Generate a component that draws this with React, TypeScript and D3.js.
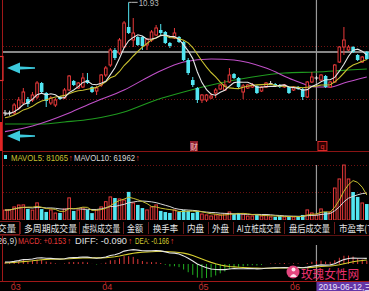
import React from 'react';
import * as d3 from 'd3';

const W = 369;
const H = 291;

// ---- price data ----
const opens = [
  7.61, 7.61, 7.61, 7.76, 7.91, 8.03, 8.0, 8.09, 8.51, 8.21,
  7.91, 7.85, 8.09, 8.06, 8.3, 8.57, 8.36, 8.39, 8.6, 8.39,
  8.27, 8.45, 8.75, 9.05, 9.5, 9.41, 9.59, 10.19, 9.8, 9.89,
  9.89, 9.65, 9.8, 9.95, 10.1, 10.04, 9.71, 9.86, 9.89, 9.74,
  9.2, 8.6, 8.36, 8.0, 8.0, 8.06, 8.21, 8.33, 8.3, 8.54,
  8.78, 8.66, 8.24, 8.36, 8.39, 8.42, 8.27, 8.39, 8.49, 8.48,
  8.45, 8.39, 8.39, 8.3, 8.39, 8.33, 8.09, 8.54, 8.66, 8.6,
  8.72, 8.39, 8.54, 9.14, 9.59, 9.5, 9.59, 9.35, 9.14, 9.44,
];
const closes = [
  7.61, 7.61, 7.85, 8.0, 8.24, 7.88, 8.15, 8.51, 8.24, 7.97,
  8.06, 8.0, 8.03, 8.3, 8.72, 8.45, 8.51, 8.66, 8.51, 8.24,
  8.36, 8.75, 8.96, 9.5, 9.26, 9.8, 10.31, 10.01, 10.01, 9.65,
  9.62, 9.83, 10.04, 10.16, 10.01, 9.71, 9.62, 10.01, 9.74, 9.2,
  8.81, 8.45, 8.0, 8.15, 8.15, 8.12, 8.3, 8.45, 8.45, 8.75,
  8.66, 8.39, 8.42, 8.45, 8.45, 8.21, 8.39, 8.51, 8.49, 8.42,
  8.39, 8.45, 8.21, 8.39, 8.33, 8.09, 8.54, 8.69, 8.66, 8.75,
  8.39, 8.54, 9.05, 9.59, 9.8, 9.59, 9.44, 9.2, 9.29, 9.23,
];
const highs = [
  7.7, 7.68, 7.91, 8.09, 8.36, 8.09, 8.24, 8.57, 8.54, 8.24,
  8.12, 8.06, 8.12, 8.36, 8.75, 8.6, 8.54, 8.81, 8.81, 8.42,
  8.42, 8.78, 9.02, 9.56, 9.56, 9.86, 10.37, 10.93, 10.46, 9.92,
  9.92, 9.86, 10.1, 10.25, 10.28, 10.07, 9.74, 10.16, 9.92, 9.77,
  9.26, 8.69, 8.39, 8.18, 8.18, 8.21, 8.36, 8.48, 8.6, 8.96,
  8.81, 8.69, 8.48, 8.48, 8.51, 8.45, 8.42, 8.54, 8.57, 8.51,
  8.48, 8.48, 8.42, 8.42, 8.42, 8.36, 8.57, 8.84, 8.72, 8.78,
  8.75, 8.57, 9.08, 9.62, 10.19, 9.65, 9.62, 9.38, 9.32, 9.47,
];
const lows = [
  7.52, 7.53, 7.55, 7.7, 7.88, 7.79, 7.94, 8.03, 8.21, 7.79,
  7.85, 7.79, 8.0, 8.03, 8.27, 8.42, 8.33, 8.36, 8.48, 8.21,
  8.15, 8.39, 8.69, 8.99, 9.2, 9.35, 9.56, 9.98, 9.59, 9.62,
  9.5, 9.5, 9.74, 9.92, 9.95, 9.68, 9.56, 9.83, 9.71, 9.17,
  8.75, 8.39, 7.91, 7.91, 7.94, 8.03, 8.06, 8.3, 8.27, 8.51,
  8.63, 8.36, 8.03, 8.33, 8.36, 8.18, 8.24, 8.36, 8.45, 8.39,
  8.36, 8.36, 8.18, 8.27, 8.3, 8.0, 8.06, 8.51, 8.6, 8.57,
  8.36, 8.36, 8.51, 9.11, 9.35, 9.47, 9.41, 9.17, 9.11, 9.2,
];
const volumes = [
  134200, 137800, 176300, 201900, 204100, 149600, 133500, 231200, 147300, 108900,
  136100, 93800, 95400, 149100, 298700, 122300, 134600, 161800, 136400, 93200,
  134700, 176900, 247300, 311600, 296800, 284200, 269500, 379400, 230100, 203600,
  161200, 135800, 176400, 203100, 122600, 107400, 95100, 134900, 108700, 135300,
  121800, 95200, 122400, 80700, 67900, 54300, 68200, 66800, 81500, 108300,
  80400, 95600, 81200, 53800, 54900, 67300, 53600, 68100, 40900, 41200,
  53400, 40700, 54800, 40300, 41500, 67900, 136200, 94800, 67600, 149200,
  108100, 107600, 431800, 554200, 741900, 553700, 377600, 311400, 229800, 215600,
];
// closes before the first visible day (for MA5 / MA10 / MACD warm-up)
const preCloses = [7.3, 7.35, 7.28, 7.4, 7.45, 7.52, 7.58, 7.55, 7.62];

// long moving averages at sample days
const ma20Idx = [0, 6, 14, 19, 26, 33, 39, 45, 50, 57, 63, 68, 71, 74, 79];
const ma20Val = [7.05, 7.22, 7.61, 7.91, 8.3, 8.81, 9.14, 9.23, 9.2, 8.96, 8.6, 8.39, 8.39, 8.51, 8.69];
const ma60Idx = [0, 8, 13, 19, 26, 33, 39, 46, 54, 61, 68, 74, 79];
const ma60Val = [7.28, 7.28, 7.34, 7.43, 7.64, 8.0, 8.24, 8.48, 8.69, 8.81, 8.84, 8.89, 8.93];

const monthIdx = [2, 22, 43, 63];
const monthLabels = ['03', '04', '05', '06'];
const crossIdx = 68;
const crossPrice = 9.44;
const highIdx = 27;
const highLabel = '10.93';
const dateLabel = '2019-06-12,三';

const tabNames = ['成交量', '多周期成交量', '虚拟成交量', '金额', '换手率', '内盘', '外盘', 'AI立桩成交量', '盘后成交量', '市盈率(TTM)'];
const volHeader = ['MAVOL5: 81065', 'MAVOL10: 61962'];
const macdHeader = ['MACD(12,26,9)', 'MACD: +0.153', 'DIFF: -0.090', 'DEA: -0.166'];

// ---- layout ----
const tabX = [-12, 24, 82, 127, 153, 187, 212, 237, 289, 339];
const tabW = [28, 53, 38, 16, 25, 17, 17, 44, 41, 48];
const tabSeps = [20, 79, 123, 148, 183, 208, 233, 284, 334];

const FONT = "'Liberation Sans', 'DejaVu Sans', 'Noto Sans CJK SC', sans-serif";
const CJK = "'Noto Sans CJK SC', 'Noto Sans CJK TC', sans-serif";

const RED = '#e8393a';
const CYAN = '#52e6f2';
const DARKRED = '#8a1414';

export default function App() {
  const n = closes.length;
  const x = d3.scaleLinear().domain([0, n - 1]).range([5, 5 + 4.58 * (n - 1)]);
  const yP = d3.scaleLinear().domain([6.5, 11]).range([150, 0]);
  const yV = d3.scaleLinear().domain([0, 945000]).range([220, 150]);
  const yM = d3.scaleLinear().domain([-1, 1]).range([290, 238]);

  const allC = [...preCloses, ...closes];
  const off = preCloses.length;
  const ma = (k: number) => closes.map((_, i) => d3.mean(allC.slice(i + off - k + 1, i + off + 1)) as number);
  const ma5 = ma(5);
  const ma10 = ma(10);
  const mv = (k: number) => volumes.map((_, i) => d3.mean(volumes.slice(Math.max(0, i - k + 1), i + 1)) as number);
  const mv5 = mv(5);
  const mv10 = mv(10);

  let e12 = allC[0];
  let e26 = allC[0];
  let dea = 0;
  const diffA: number[] = [];
  const deaA: number[] = [];
  const histA: number[] = [];
  allC.forEach((c, j) => {
    if (j > 0) {
      e12 = (e12 * 11 + c * 2) / 13;
      e26 = (e26 * 25 + c * 2) / 27;
    }
    const d = e12 - e26;
    dea = (dea * 8 + d * 2) / 10;
    if (j >= off) {
      diffA.push(d);
      deaA.push(dea);
      histA.push(2 * (d - dea));
    }
  });

  const lineP = d3.line<number>().x((_, i) => x(i)).y((v) => yP(v));
  const lineV = d3.line<number>().x((_, i) => x(i)).y((v) => yV(v));
  const lineM = d3.line<number>().x((_, i) => x(i)).y((v) => yM(v));
  const sampled = (idx: number[]) =>
    d3.line<number>().x((_, k) => x(idx[k])).y((v) => yP(v)).curve(d3.curveMonotoneX);

  const bw = 2.6;
  const arrow = (cy: number) =>
    `M7,${cy} L20,${cy - 5.5} L20,${cy - 1.6} L35,${cy - 0.8} L35,${cy + 0.8} L20,${cy + 1.6} L20,${cy + 5.5} Z`;

  const cx = x(crossIdx);
  const hx = x(highIdx);
  const hy = yP(highs[highIdx]);

  return (
    <svg
      width={W}
      height={H}
      style={{ position: 'absolute', left: 0, top: 0, background: '#000', display: 'block' }}
      fontFamily={FONT}
    >
      <defs>
        <clipPath id="cp"><rect x={3} y={0} width={W} height={151} /></clipPath>
        <clipPath id="cv"><rect x={3} y={151} width={W} height={69} /></clipPath>
        <clipPath id="cm"><rect x={3} y={245} width={W} height={36} /></clipPath>
      </defs>
      <rect x={0} y={0} width={W} height={H} fill="#000" />

      {/* grid lines */}
      {[46.5, 99.5].map((gy) => (
        <line key={gy} x1={3} x2={W} y1={gy} y2={gy} stroke="#6e1212" strokeDasharray="1 2" />
      ))}
      {[165.5, 192.5].map((gy) => (
        <line key={gy} x1={3} x2={W} y1={gy} y2={gy} stroke="#6e1212" strokeDasharray="1 2" />
      ))}
      <line x1={3} x2={W} y1={151.5} y2={151.5} stroke={DARKRED} />
      <line x1={2.5} x2={2.5} y1={0} y2={281} stroke="#a01818" />

      {/* crosshair */}
      <line x1={3} x2={W} y1={yP(crossPrice)} y2={yP(crossPrice)} stroke="#b4b4b4" strokeWidth={1.5} />
      <line x1={cx} x2={cx} y1={0} y2={141} stroke="#9a9a9a" strokeWidth={1.2} />
      <line x1={cx} x2={cx} y1={165} y2={220} stroke="#9a9a9a" strokeWidth={1.2} />
      <line x1={cx} x2={cx} y1={245} y2={281} stroke="#9a9a9a" strokeWidth={1.2} />

      {/* price panel */}
      <g clipPath="url(#cp)">
        <path d={sampled(ma60Idx)(ma60Val) || ''} fill="none" stroke="#1f9a1f" strokeWidth={1.1} />
        <path d={sampled(ma20Idx)(ma20Val) || ''} fill="none" stroke="#c050c8" strokeWidth={1.1} />
        {closes.map((c, i) => {
          const o = opens[i];
          const up = c > o;
          const flat = c === o;
          const col = flat ? '#e8e8e8' : up ? RED : CYAN;
          const top = yP(Math.max(o, c));
          const bot = yP(Math.min(o, c));
          return (
            <g key={i}>
              <line x1={x(i)} x2={x(i)} y1={yP(highs[i])} y2={yP(lows[i])} stroke={col} strokeWidth={1} />
              {flat ? (
                <line x1={x(i) - 2} x2={x(i) + 2} y1={top} y2={top} stroke={col} strokeWidth={1} />
              ) : up ? (
                <rect x={x(i) - bw / 2} y={top} width={bw} height={Math.max(1, bot - top)} fill="#000" stroke={col} strokeWidth={1} />
              ) : (
                <rect x={x(i) - (bw + 1) / 2} y={top} width={bw + 1} height={Math.max(1, bot - top)} fill={col} />
              )}
            </g>
          );
        })}
        <path d={lineP(ma10) || ''} fill="none" stroke="#c8c030" strokeWidth={1.1} />
        <path d={lineP(ma5) || ''} fill="none" stroke="#e6e6e6" strokeWidth={1.1} />
      </g>

      {/* high annotation */}
      <polyline points={`${hx},${hy} ${hx + 3},${hy} ${hx + 9},${hy}`} fill="none" stroke="#b8b8b8" />
      <text x={hx + 10} y={5.5} fontSize={8.5} fill="#b8b8b8" textLength={20} lengthAdjust="spacingAndGlyphs">{highLabel}</text>

      {/* left markers */}
      <rect x={-1} y={56.5} width={4} height={24} fill="none" stroke="#e03030" strokeWidth={1.2} />
      <rect x={0} y={122} width={2.2} height={29} fill="#e02424" />
      <path d={arrow(68)} fill="#3cc9dc" />
      <path d={arrow(136)} fill="#3cc9dc" />

      {/* event markers */}
      <rect x={190} y={141} width={8} height={10} fill="#8c1c2c" />
      <text x={194} y={149.5} fontSize={7.5} fill="#f4c8c8" textAnchor="middle" fontFamily={CJK}>财</text>
      <rect x={cx + 1.5} y={141.5} width={9} height={9} fill="#300" stroke="#d82828" />
      <text x={cx + 6} y={149} fontSize={7} fill="#e83030" textAnchor="middle">q</text>

      {/* volume panel */}
      <rect x={4} y={155} width={3} height={4} fill={CYAN} />
      <text x={11} y={161} fontSize={8.5} fill="#c8c030" textLength={57} lengthAdjust="spacingAndGlyphs">{volHeader[0]}</text>
      <text x={68.5} y={161} fontSize={8.5} fill={RED}>↑</text>
      <text x={74} y={161} fontSize={8.5} fill="#d8d8d8" textLength={61} lengthAdjust="spacingAndGlyphs">{volHeader[1]}</text>
      <text x={135.5} y={161} fontSize={8.5} fill={RED}>↑</text>
      <g clipPath="url(#cv)">
        {volumes.map((v, i) => {
          const up = closes[i] >= opens[i];
          const t = yV(v);
          return up ? (
            <rect key={i} x={x(i) - bw / 2} y={t} width={bw} height={220 - t} fill="#000" stroke={RED} strokeWidth={1} />
          ) : (
            <rect key={i} x={x(i) - (bw + 1) / 2} y={t} width={bw + 1} height={220 - t} fill={CYAN} />
          );
        })}
        <path d={lineV(mv10) || ''} fill="none" stroke="#d8d8d8" strokeWidth={1} />
        <path d={lineV(mv5) || ''} fill="none" stroke="#c8c030" strokeWidth={1} />
      </g>

      {/* tab bar */}
      <rect x={0} y={220} width={W} height={15} fill="#000" />
      <line x1={0} x2={W} y1={235.5} y2={235.5} stroke="#5a1010" />
      <rect x={-1} y={221.5} width={20.5} height={13} fill="none" stroke="#7a1a1a" />
      {tabSeps.map((s) => (
        <line key={s} x1={s + 0.5} x2={s + 0.5} y1={222} y2={234} stroke="#6a1818" />
      ))}
      {tabNames.map((t, i) => (
        <text key={t} x={tabX[i]} y={231.5} fontSize={9.5} fill="#e6e6e6" fontFamily={CJK} textLength={tabW[i]} lengthAdjust="spacingAndGlyphs">{t}</text>
      ))}

      {/* MACD header */}
      <text x={17} y={244} fontSize={8.5} fill="#cfcfcf" textAnchor="end">{macdHeader[0]}</text>
      <text x={18} y={244} fontSize={8.5} fill={RED} textLength={48} lengthAdjust="spacingAndGlyphs">{macdHeader[1]}</text>
      <text x={67} y={244} fontSize={8.5} fill={RED}>↑</text>
      <text x={75} y={244} fontSize={8.5} fill="#e0e0e0" textLength={52} lengthAdjust="spacingAndGlyphs">{macdHeader[2]}</text>
      <text x={128} y={244} fontSize={8.5} fill={RED}>↑</text>
      <text x={135} y={244} fontSize={8.5} fill="#d8d030" textLength={34} lengthAdjust="spacingAndGlyphs">{macdHeader[3]}</text>
      <text x={170} y={244} fontSize={8.5} fill={RED}>↑</text>

      {/* MACD panel */}
      <g clipPath="url(#cm)">
        {histA.map((h, i) => (
          <line key={i} x1={x(i)} x2={x(i)} y1={yM(0)} y2={yM(h)} stroke={h >= 0 ? '#e03a3a' : '#22b022'} strokeWidth={1} />
        ))}
        <path d={lineM(deaA) || ''} fill="none" stroke="#d8d030" strokeWidth={1.1} />
        <path d={lineM(diffA) || ''} fill="none" stroke="#e6e6e6" strokeWidth={1.1} />
      </g>

      {/* watermark */}
      <circle cx={293} cy={272} r={6.5} fill="#e2467e" />
      <circle cx={293.5} cy={269.5} r={2} fill="#fff" opacity={0.85} />
      <path d="M290,277 Q293.5,271 297,277 Z" fill="#fff" opacity={0.85} />
      <text x={301} y={279} fontSize={12.5} fill="#e8306c" fontFamily={CJK} textLength={58} lengthAdjust="spacingAndGlyphs">玫瑰女性网</text>

      {/* bottom axis */}
      <line x1={0} x2={W} y1={281.5} y2={281.5} stroke="#a01818" />
      {monthIdx.map((mi, k) => (
        <g key={mi}>
          <line x1={x(mi)} x2={x(mi)} y1={281} y2={284} stroke="#a01818" />
          <text x={x(mi) + 1.5} y={290} fontSize={9} fill="#c83232" textAnchor="middle">{monthLabels[k]}</text>
        </g>
      ))}
      <rect x={cx} y={282} width={W - cx} height={9} fill="#6436a6" />
      <text x={cx + 2} y={290} fontSize={8.5} fill="#eee6ff">{dateLabel}</text>
    </svg>
  );
}
